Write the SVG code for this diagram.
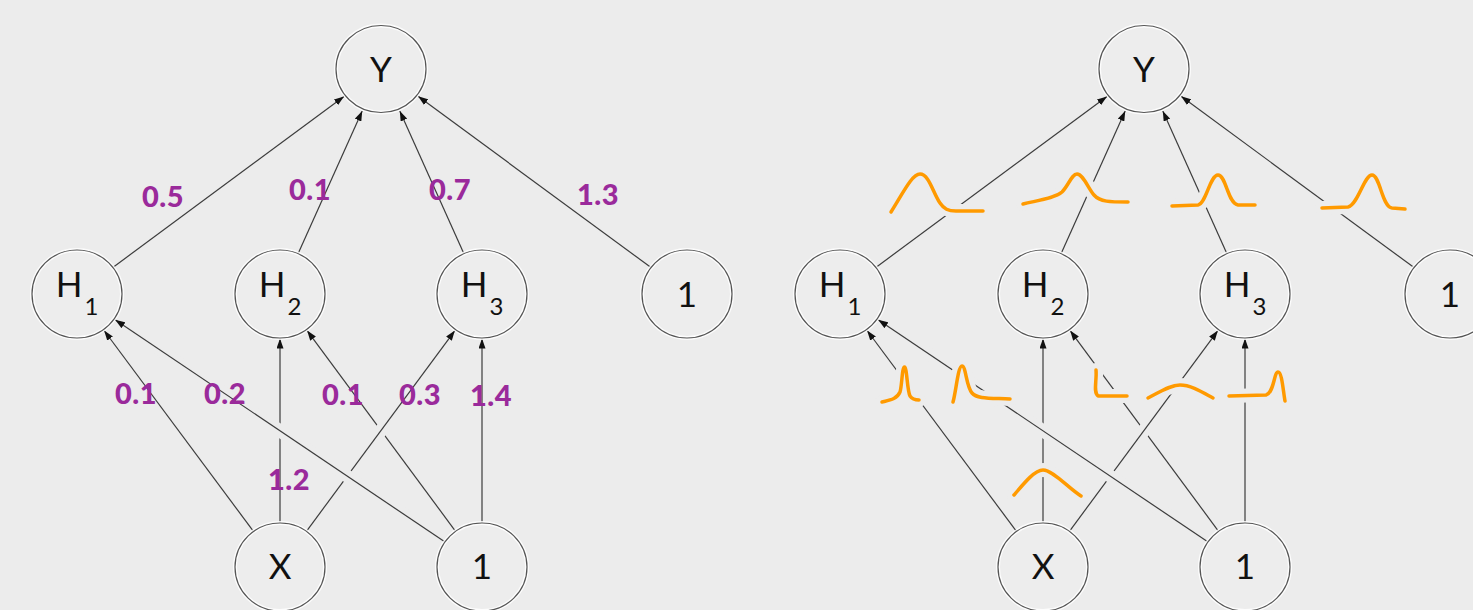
<svg xmlns="http://www.w3.org/2000/svg" width="1473" height="610" viewBox="0 0 1473 610">
  <defs>
    <marker id="arrow" markerUnits="userSpaceOnUse" markerWidth="10" markerHeight="7" refX="10" refY="3.5" orient="auto">
      <path d="M0,0 L10,3.5 L0,7 Z" fill="#111"/>
    </marker>
    <style>
      .edge { stroke: #3c3c3c; stroke-width: 1.2; fill: none; marker-end: url(#arrow); }
      .gap { stroke: #ececec; stroke-width: 13; fill: none; }
      .ring { fill: #ededed; stroke: #ffffff; stroke-width: 4; stroke-opacity: 0.85; }
      .outline { fill: none; stroke: #555555; stroke-width: 1.2; }
      .lbl { font-family: Lato, "Open Sans", sans-serif; font-size: 35px; fill: #111111; text-anchor: middle; }
      .sub { font-size: 24px; }
      .w { font-family: Lato, "Open Sans", sans-serif; font-weight: 900; font-size: 29px; letter-spacing: 0.5px; fill: #9a2a9b; text-anchor: middle; }
      .pdf-halo { stroke: #ececec; stroke-width: 14; fill: none; stroke-linecap: round; stroke-linejoin: round; }
      .pdf { stroke: #ff9a00; stroke-width: 3.5; fill: none; stroke-linecap: round; stroke-linejoin: round; }
    </style>
  </defs>

  <rect x="0" y="0" width="1473" height="610" fill="#ececec"/>

  <!-- Left network: point weights -->
  <g id="left-connectors">
    <line class="edge" x1="113.2" y1="267.2" x2="344.0" y2="96.4"/>
    <line class="edge" x1="298.4" y1="252.9" x2="362.2" y2="111.0"/>
    <line class="edge" x1="463.6" y1="252.9" x2="399.8" y2="111.0"/>
    <line class="edge" x1="650.7" y1="267.3" x2="418.1" y2="96.3"/>
    <line class="edge" x1="253.1" y1="530.9" x2="104.1" y2="330.5"/>
    <line class="edge" x1="482" y1="523" x2="482" y2="338.5"/>
    <line class="edge" x1="280" y1="523" x2="280" y2="338.5"/>
    <line class="edge" x1="455.2" y1="530.8" x2="307.1" y2="330.6"/>
    <line class="gap" x1="318.7" y1="514.7" x2="443.0" y2="346.7"/>
    <line class="edge" x1="306.8" y1="530.8" x2="454.9" y2="330.6"/>
    <line class="gap" x1="428.1" y1="530.6" x2="131.7" y2="330.9"/>
    <line class="edge" x1="444.7" y1="541.8" x2="115.1" y2="319.7"/>
  </g>

  <g id="left-weights">
    <text class="w" x="163" y="207">0.5</text>
    <text class="w" x="310" y="200">0.1</text>
    <text class="w" x="450" y="200">0.7</text>
    <text class="w" x="598" y="205">1.3</text>
    <text class="w" x="136" y="404">0.1</text>
    <text class="w" x="225" y="404">0.2</text>
    <text class="w" x="343" y="405">0.1</text>
    <text class="w" x="420" y="405">0.3</text>
    <text class="w" x="491" y="406">1.4</text>
    <text class="w" x="289" y="490">1.2</text>
  </g>

  <g id="left-Y">
    <ellipse class="ring" cx="381" cy="69" rx="45" ry="43.5"/>
    <ellipse class="outline" cx="381" cy="69" rx="45" ry="43.5"/>
    <text class="lbl" x="381" y="82">Y</text>
  </g>
  <g id="left-H1">
    <ellipse class="ring" cx="77" cy="294" rx="45" ry="44"/>
    <ellipse class="outline" cx="77" cy="294" rx="45" ry="44"/>
    <text class="lbl" x="77" y="297">H<tspan class="sub" dx="2" dy="18">1</tspan></text>
  </g>
  <g id="left-H2">
    <ellipse class="ring" cx="280" cy="294" rx="45" ry="44"/>
    <ellipse class="outline" cx="280" cy="294" rx="45" ry="44"/>
    <text class="lbl" x="280" y="297">H<tspan class="sub" dx="2" dy="18">2</tspan></text>
  </g>
  <g id="left-H3">
    <ellipse class="ring" cx="482" cy="294" rx="45" ry="44"/>
    <ellipse class="outline" cx="482" cy="294" rx="45" ry="44"/>
    <text class="lbl" x="482" y="297">H<tspan class="sub" dx="2" dy="18">3</tspan></text>
  </g>
  <g id="left-bias-hidden">
    <ellipse class="ring" cx="687" cy="294" rx="45" ry="44"/>
    <ellipse class="outline" cx="687" cy="294" rx="45" ry="44"/>
    <text class="lbl" x="687" y="307">1</text>
  </g>
  <g id="left-X">
    <ellipse class="ring" cx="280" cy="567" rx="45" ry="44"/>
    <ellipse class="outline" cx="280" cy="567" rx="45" ry="44"/>
    <text class="lbl" x="280" y="579">X</text>
  </g>
  <g id="left-bias-input">
    <ellipse class="ring" cx="482" cy="567" rx="45" ry="44"/>
    <ellipse class="outline" cx="482" cy="567" rx="45" ry="44"/>
    <text class="lbl" x="482" y="579">1</text>
  </g>

  <!-- Right network: weight distributions -->
  <g id="right-connectors" transform="translate(763,0)">
    <line class="edge" x1="113.2" y1="267.2" x2="344.0" y2="96.4"/>
    <line class="edge" x1="298.4" y1="252.9" x2="362.2" y2="111.0"/>
    <line class="edge" x1="463.6" y1="252.9" x2="399.8" y2="111.0"/>
    <line class="edge" x1="650.7" y1="267.3" x2="418.1" y2="96.3"/>
    <line class="edge" x1="253.1" y1="530.9" x2="104.1" y2="330.5"/>
    <line class="edge" x1="482" y1="523" x2="482" y2="338.5"/>
    <line class="edge" x1="280" y1="523" x2="280" y2="338.5"/>
    <line class="edge" x1="455.2" y1="530.8" x2="307.1" y2="330.6"/>
    <line class="gap" x1="318.7" y1="514.7" x2="443.0" y2="346.7"/>
    <line class="edge" x1="306.8" y1="530.8" x2="454.9" y2="330.6"/>
    <line class="gap" x1="428.1" y1="530.6" x2="131.7" y2="330.9"/>
    <line class="edge" x1="444.7" y1="541.8" x2="115.1" y2="319.7"/>
  </g>

  <g id="right-weights">
    <g class="pdf-halo">
      <path d="M891,212 C903,193 912,174 920,174 C929,174 933,193 940,203 C944,209 948,211 956,211 L983,211"/>
      <path d="M1023,204 C1040,200 1055,198 1062,192 C1068,186 1072,174 1077,174 C1083,174 1088,188 1094,195 C1100,202 1110,202 1128,202"/>
      <path d="M1172,206 L1198,205 C1206,204 1210,175 1218,175 C1226,175 1228,204 1238,205 L1255,205"/>
      <path d="M1322,208 L1348,207 C1358,205 1364,175 1372,175 C1380,175 1382,207 1392,208 L1405,209"/>
      <path d="M882,402 C890,400 897,399 900,392 C902,386 902,367 904.5,367 C907,367 907,390 910,396 C912,399 915,400 919,400"/>
      <path d="M953,402 C956,392 958,366 962,366 C966,366 966,386 972,393 C977,399 990,398 1010,399"/>
      <path d="M1096,370 C1097,380 1093,392 1098,396 L1127,396"/>
      <path d="M1148,398 C1160,392 1170,385 1180,385 C1191,385 1202,392 1213,398"/>
      <path d="M1229,396 L1266,395 C1274,393 1274,372 1278,372 C1282,372 1283,390 1285,401"/>
      <path d="M1014,495 C1025,482 1035,470 1043,470 C1053,470 1068,488 1081,496"/>
    </g>
    <g class="pdf">
      <path d="M891,212 C903,193 912,174 920,174 C929,174 933,193 940,203 C944,209 948,211 956,211 L983,211"/>
      <path d="M1023,204 C1040,200 1055,198 1062,192 C1068,186 1072,174 1077,174 C1083,174 1088,188 1094,195 C1100,202 1110,202 1128,202"/>
      <path d="M1172,206 L1198,205 C1206,204 1210,175 1218,175 C1226,175 1228,204 1238,205 L1255,205"/>
      <path d="M1322,208 L1348,207 C1358,205 1364,175 1372,175 C1380,175 1382,207 1392,208 L1405,209"/>
      <path d="M882,402 C890,400 897,399 900,392 C902,386 902,367 904.5,367 C907,367 907,390 910,396 C912,399 915,400 919,400"/>
      <path d="M953,402 C956,392 958,366 962,366 C966,366 966,386 972,393 C977,399 990,398 1010,399"/>
      <path d="M1096,370 C1097,380 1093,392 1098,396 L1127,396"/>
      <path d="M1148,398 C1160,392 1170,385 1180,385 C1191,385 1202,392 1213,398"/>
      <path d="M1229,396 L1266,395 C1274,393 1274,372 1278,372 C1282,372 1283,390 1285,401"/>
      <path d="M1014,495 C1025,482 1035,470 1043,470 C1053,470 1068,488 1081,496"/>
    </g>
  </g>

  <g id="right-Y">
    <ellipse class="ring" cx="1144" cy="69" rx="45" ry="43.5"/>
    <ellipse class="outline" cx="1144" cy="69" rx="45" ry="43.5"/>
    <text class="lbl" x="1144" y="82">Y</text>
  </g>
  <g id="right-H1">
    <ellipse class="ring" cx="840" cy="294" rx="45" ry="44"/>
    <ellipse class="outline" cx="840" cy="294" rx="45" ry="44"/>
    <text class="lbl" x="840" y="297">H<tspan class="sub" dx="2" dy="18">1</tspan></text>
  </g>
  <g id="right-H2">
    <ellipse class="ring" cx="1043" cy="294" rx="45" ry="44"/>
    <ellipse class="outline" cx="1043" cy="294" rx="45" ry="44"/>
    <text class="lbl" x="1043" y="297">H<tspan class="sub" dx="2" dy="18">2</tspan></text>
  </g>
  <g id="right-H3">
    <ellipse class="ring" cx="1245" cy="294" rx="45" ry="44"/>
    <ellipse class="outline" cx="1245" cy="294" rx="45" ry="44"/>
    <text class="lbl" x="1245" y="297">H<tspan class="sub" dx="2" dy="18">3</tspan></text>
  </g>
  <g id="right-bias-hidden">
    <ellipse class="ring" cx="1450" cy="294" rx="45" ry="44"/>
    <ellipse class="outline" cx="1450" cy="294" rx="45" ry="44"/>
    <text class="lbl" x="1450" y="307">1</text>
  </g>
  <g id="right-X">
    <ellipse class="ring" cx="1043" cy="567" rx="45" ry="44"/>
    <ellipse class="outline" cx="1043" cy="567" rx="45" ry="44"/>
    <text class="lbl" x="1043" y="579">X</text>
  </g>
  <g id="right-bias-input">
    <ellipse class="ring" cx="1245" cy="567" rx="45" ry="44"/>
    <ellipse class="outline" cx="1245" cy="567" rx="45" ry="44"/>
    <text class="lbl" x="1245" y="579">1</text>
  </g>
</svg>
